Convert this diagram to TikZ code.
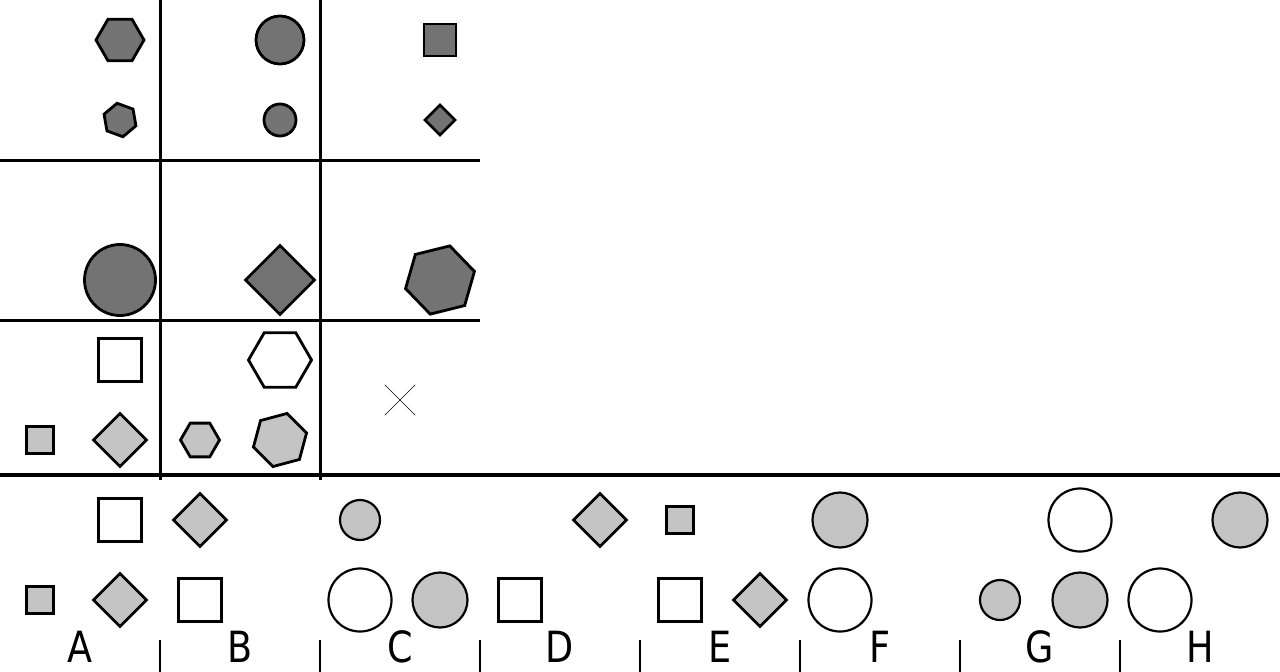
\documentclass[tikz,border=0pt]{standalone}
\usepackage{fontspec}
\newfontfamily\lblfont[FakeStretch=0.85]{DejaVu Sans}
\usetikzlibrary{shapes.geometric,shapes.misc}
\definecolor{dkgray}{gray}{0.45}
\definecolor{ltgray}{gray}{0.77}

\begin{document}
\begin{tikzpicture}[x=1pt, y=-1pt,
fig/.style={draw, line width=2.8pt, inner sep=0pt, outer sep=0pt},
circ/.style={fig, circle, minimum size=#1},
sq/.style={fig, rectangle, minimum size=#1},
dia/.style={fig, diamond, minimum width=#1, minimum height=#1},
hex/.style={fig, regular polygon, regular polygon sides=6, minimum size=#1},
dk/.style={fill=dkgray}, lt/.style={fill=ltgray}, wh/.style={fill=white},
thn/.style={line width=2.2pt},
lbl/.style={font=\lblfont\fontsize{43}{43}\selectfont, anchor=base, inner sep=0pt}
]
\useasboundingbox (0,0) rectangle (1280,672);

% grid of the puzzle
\foreach \x in {160,320}{\draw[line width=3pt] (\x,0) -- (\x,480);}
\foreach \y in {160,320}{\draw[line width=3pt] (0,\y) -- (480,\y);}
\draw[line width=4.5pt] (0,475) -- (1280,475);
\foreach \x in {160,320,...,1120}{\draw[line width=1.3pt] (\x,640) -- (\x,672);}

% row 1
\node[hex=48, dk] (h11) at (120,40){};
\node[hex=34, dk, shape border rotate=40] (h12) at (120,120){};
\node[circ=48, dk] (c11) at (280,40){};
\node[circ=32, dk] (c12) at (280,120){};
\node[sq=32, dk] (s11) at (440,40){};
\node[dia=30, dk] (d11) at (440,120){};

% row 2
\node[circ=71, dk] (c21) at (120,280){};
\node[dia=69, dk] (d21) at (280,280){};
\node[hex=71, dk, shape border rotate=14] (h21) at (440,280){};

% row 3
\node[sq=43, wh] (s31) at (120,360){};
\node[sq=27, lt] (s32) at (40,440){};
\node[dia=53, lt] (d31) at (120,440){};
\node[hex=63, wh] (h31) at (280,360){};
\node[hex=39, lt] (h32) at (200,440){};
\node[hex=55, lt, shape border rotate=15] (h33) at (280,440){};
\node[cross out, draw, thin, minimum size=30pt] (miss) at (400,400){};

% answers
\node[sq=43, wh] (aA1) at (120,520){};
\node[sq=27, lt] (aA2) at (40,600){};
\node[dia=53, lt] (aA3) at (120,600){};
\node[dia=53, lt] (aB1) at (200,520){};
\node[sq=43, wh] (aB2) at (200,600){};
\node[circ=40, lt, thn] (aC1) at (360,520){};
\node[circ=63, wh, thn] (aC2) at (360,600){};
\node[circ=55, lt, thn] (aC3) at (440,600){};
\node[dia=53, lt] (aD1) at (600,520){};
\node[sq=43, wh] (aD2) at (520,600){};
\node[sq=27, lt] (aE1) at (680,520){};
\node[sq=43, wh] (aE2) at (680,600){};
\node[dia=53, lt] (aE3) at (760,600){};
\node[circ=55, lt, thn] (aF1) at (840,520){};
\node[circ=63, wh, thn] (aF2) at (840,600){};
\node[circ=63, wh, thn] (aG1) at (1080,520){};
\node[circ=40, lt, thn] (aG2) at (1000,600){};
\node[circ=55, lt, thn] (aG3) at (1080,600){};
\node[circ=55, lt, thn] (aH1) at (1240,520){};
\node[circ=63, wh, thn] (aH2) at (1160,600){};

\foreach \l [count=\i] in {A,B,C,D,E,F,G,H}{\node[lbl] (lbl\l) at ({160*\i-80},662) {\l};}
\end{tikzpicture}
\end{document}
